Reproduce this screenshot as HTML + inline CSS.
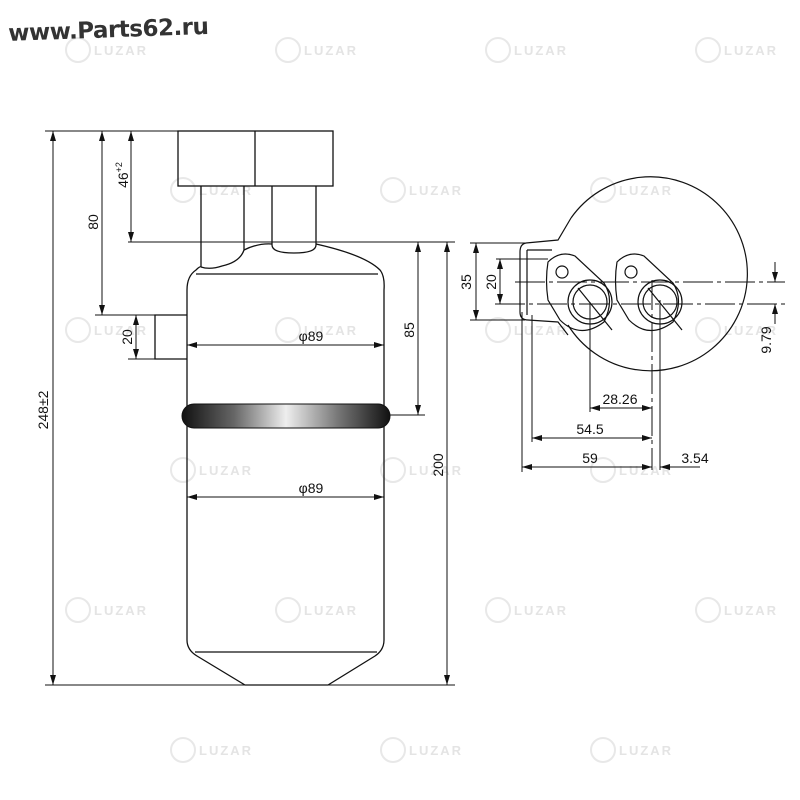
<!DOCTYPE html>
<html><head><meta charset="utf-8"><style>
html,body{margin:0;padding:0;background:#fff;}
svg{display:block;}
text{font-family:"Liberation Sans",sans-serif;}
</style></head><body>
<svg width="800" height="800" viewBox="0 0 800 800" xmlns="http://www.w3.org/2000/svg">
<defs>
<marker id="a" viewBox="0 0 10 6" refX="10" refY="3" markerWidth="10" markerHeight="6" orient="auto-start-reverse" markerUnits="userSpaceOnUse"><path d="M0,0 L10,3 L0,6 z" fill="#111"/></marker>
<linearGradient id="rg" x1="0" x2="1" y1="0" y2="0">
<stop offset="0" stop-color="#111"/><stop offset="0.25" stop-color="#666"/><stop offset="0.5" stop-color="#eee"/><stop offset="0.75" stop-color="#777"/><stop offset="1" stop-color="#111"/></linearGradient>
</defs>
<g fill="#e4e4e4" font-size="13" font-weight="bold" letter-spacing="2">
<g id="wm"><circle cx="78" cy="50" r="12" fill="none" stroke="#e8e8e8" stroke-width="2"/><text x="94" y="55">LUZAR</text></g>
<use href="#wm" x="210"/><use href="#wm" x="420"/><use href="#wm" x="630"/>
<use href="#wm" x="105" y="140"/><use href="#wm" x="315" y="140"/><use href="#wm" x="525" y="140"/>
<use href="#wm" x="0" y="280"/><use href="#wm" x="210" y="280"/><use href="#wm" x="420" y="280"/><use href="#wm" x="630" y="280"/>
<use href="#wm" x="105" y="420"/><use href="#wm" x="315" y="420"/><use href="#wm" x="525" y="420"/>
<use href="#wm" x="0" y="560"/><use href="#wm" x="210" y="560"/><use href="#wm" x="420" y="560"/><use href="#wm" x="630" y="560"/>
<use href="#wm" x="105" y="700"/><use href="#wm" x="315" y="700"/><use href="#wm" x="525" y="700"/>
</g>
<text x="8" y="37" font-size="23" font-weight="bold" fill="#333" style="font-family:'DejaVu Sans',sans-serif" letter-spacing="-0.5" transform="rotate(-2 120 25)">www.Parts62.ru</text>

<g stroke="#111" stroke-width="1.3" fill="none">
<rect x="178" y="131" width="155" height="55"/>
<line x1="255" y1="131" x2="255" y2="186"/>
<path d="M201,186 V267 M244,186 V250 Q240,262 222,266 Q210,270 201,267"/>
<path d="M272,186 V245 Q272,253 294,253 Q316,253 316,245 V186"/>
<path d="M244,250 Q258,243 272,244 M316,244 Q365,255 380,270 Q385,276 384,290 V640 Q384,650 375,656 L328,685 H245 L197,656 Q187,650 187,640 V290 Q187,276 196,270 Q200,266 201,267"/>
<line x1="196" y1="274" x2="378" y2="274"/>
<line x1="195" y1="652" x2="377" y2="652"/>
<path d="M187,315 H155 V359 H187"/>
</g>
<rect x="182" y="404" width="208" height="24" rx="12" fill="url(#rg)" stroke="#111"/>

<g stroke="#111" stroke-width="1" fill="none">
<line x1="45" y1="131" x2="178" y2="131"/>
<line x1="45" y1="685" x2="455" y2="685"/>
<line x1="128" y1="242" x2="455" y2="242"/>
<line x1="95" y1="315" x2="155" y2="315"/>
<line x1="128" y1="359" x2="155" y2="359"/>
<line x1="390" y1="415" x2="425" y2="415"/>
<line x1="53" y1="131" x2="53" y2="685" marker-start="url(#a)" marker-end="url(#a)"/>
<line x1="102" y1="131" x2="102" y2="315" marker-start="url(#a)" marker-end="url(#a)"/>
<line x1="131" y1="131" x2="131" y2="242" marker-start="url(#a)" marker-end="url(#a)"/>
<line x1="136" y1="315" x2="136" y2="359" marker-start="url(#a)" marker-end="url(#a)"/>
<line x1="418" y1="242" x2="418" y2="415" marker-start="url(#a)" marker-end="url(#a)"/>
<line x1="447" y1="242" x2="447" y2="685" marker-start="url(#a)" marker-end="url(#a)"/>
<line x1="187" y1="345" x2="384" y2="345" marker-start="url(#a)" marker-end="url(#a)"/>
<line x1="187" y1="497" x2="384" y2="497" marker-start="url(#a)" marker-end="url(#a)"/>
</g>
<g font-size="14" fill="#111">
<text transform="translate(48,410) rotate(-90)" text-anchor="middle">248±2</text>
<text transform="translate(98,222) rotate(-90)" text-anchor="middle">80</text>
<text transform="translate(128,175) rotate(-90)" text-anchor="middle">46<tspan font-size="9" dy="-6">+2</tspan></text>
<text transform="translate(132,337) rotate(-90)" text-anchor="middle">20</text>
<text transform="translate(414,330) rotate(-90)" text-anchor="middle">85</text>
<text transform="translate(443,465) rotate(-90)" text-anchor="middle">200</text>
<text x="311" y="341" text-anchor="middle">φ89</text>
<text x="311" y="493" text-anchor="middle">φ89</text>
</g>

<g stroke="#111" stroke-width="1.2" fill="none">
<path d="M571,218 A97,97 0 1 1 568,325"/>
<path d="M571,218 L558,240 L526,243 Q520,244 520,252 V312 Q520,320 528,320 L558,322 L568,335"/>
<path d="M527,250 H552 M527,250 V315"/>
<path d="M548,262 Q560,250 575,256 L604,283 Q615,300 604,322 Q580,340 560,320 L548,300 Q545,280 548,262 Z"/>
<path d="M617,262 Q629,250 644,256 L673,283 Q684,300 673,322 Q649,340 629,320 L617,300 Q614,280 617,262 Z"/>
<circle cx="590" cy="302" r="22"/><circle cx="590" cy="302" r="17"/>
<circle cx="660" cy="302" r="22"/><circle cx="660" cy="302" r="17"/>
<circle cx="562" cy="272" r="6"/><circle cx="631" cy="272" r="6"/>
<line x1="578" y1="288" x2="612" y2="330"/><line x1="648" y1="288" x2="682" y2="330"/>
</g>
<g stroke="#111" stroke-width="1" fill="none">
<line x1="515" y1="282" x2="785" y2="282" stroke-dasharray="30,4,4,4"/>
<line x1="495" y1="304" x2="785" y2="304" stroke-dasharray="30,4,4,4"/>
<line x1="652" y1="280" x2="652" y2="470" stroke-dasharray="30,4,4,4"/>
<line x1="470" y1="243" x2="525" y2="243"/>
<line x1="470" y1="320" x2="525" y2="320"/>
<line x1="496" y1="259" x2="548" y2="259"/>
<line x1="476" y1="243" x2="476" y2="320" marker-start="url(#a)" marker-end="url(#a)"/>
<line x1="500" y1="259" x2="500" y2="304" marker-start="url(#a)" marker-end="url(#a)"/>
<line x1="775" y1="262" x2="775" y2="282" marker-end="url(#a)"/>
<line x1="775" y1="324" x2="775" y2="304" marker-end="url(#a)"/>
<line x1="590" y1="302" x2="590" y2="412"/>
<line x1="660" y1="300" x2="660" y2="470"/>
<line x1="532" y1="315" x2="532" y2="442"/>
<line x1="522" y1="312" x2="522" y2="472"/>
<line x1="590" y1="408" x2="652" y2="408" marker-start="url(#a)" marker-end="url(#a)"/>
<line x1="532" y1="438" x2="652" y2="438" marker-start="url(#a)" marker-end="url(#a)"/>
<line x1="522" y1="467" x2="652" y2="467" marker-start="url(#a)" marker-end="url(#a)"/>
<line x1="700" y1="467" x2="660" y2="467" marker-end="url(#a)"/>
</g>
<g font-size="14" fill="#111">
<text transform="translate(471,282) rotate(-90)" text-anchor="middle">35</text>
<text transform="translate(496,282) rotate(-90)" text-anchor="middle">20</text>
<text transform="translate(771,340) rotate(-90)" text-anchor="middle">9.79</text>
<text x="620" y="404" text-anchor="middle">28.26</text>
<text x="590" y="434" text-anchor="middle">54.5</text>
<text x="590" y="463" text-anchor="middle">59</text>
<text x="695" y="463" text-anchor="middle">3.54</text>
</g>
</svg>
</body></html>
